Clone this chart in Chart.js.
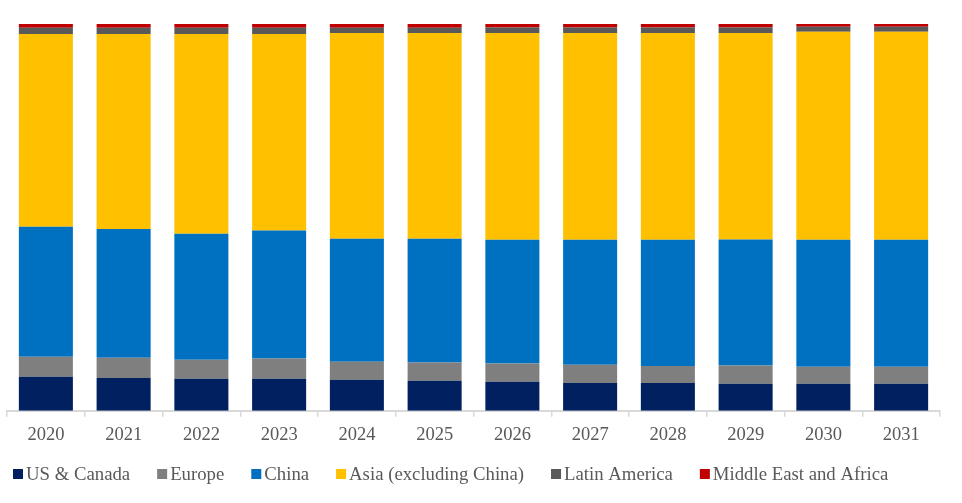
<!DOCTYPE html>
<html>
<head>
<meta charset="utf-8">
<script src="https://cdn.jsdelivr.net/npm/chart.js@4/dist/chart.umd.min.js"></script>
<style>
  html, body { margin: 0; padding: 0; background: #ffffff; }
  #wrap { width: 962px; height: 503px; }
</style>
</head>
<body>
<div id="wrap"><canvas id="c" width="962" height="503"></canvas></div>
<script>
const years = ['2020','2021','2022','2023','2024','2025','2026','2027','2028','2029','2030','2031'];
const usCanada = [8.8, 8.5, 8.3, 8.3, 8.0, 7.8, 7.5, 7.2, 7.2, 7.0, 7.0, 7.0];
const europe   = [5.2, 5.2, 4.9, 5.2, 4.7, 4.7, 4.7, 4.7, 4.4, 4.7, 4.4, 4.4];
const china    = [33.6, 33.3, 32.6, 33.1, 31.8, 32.0, 32.0, 32.3, 32.6, 32.6, 32.8, 32.8];
const asiaExChina = [49.8, 50.4, 51.6, 50.8, 53.2, 53.2, 53.5, 53.5, 53.5, 53.4, 53.8, 53.8];
const latinAmerica = [1.6, 1.6, 1.6, 1.6, 1.3, 1.3, 1.4, 1.4, 1.4, 1.4, 1.3, 1.3];
const middleEastAfrica = [1.0, 1.0, 1.0, 1.0, 1.0, 1.0, 0.9, 0.9, 0.9, 0.9, 0.7, 0.7];

const seriesNames = ['US & Canada', 'Europe', 'China', 'Asia (excluding China)', 'Latin America', 'Middle East and Africa'];
const seriesColors = ['#002060', '#7f7f7f', '#0070c0', '#ffc000', '#595959', '#c00000'];
const seriesData = [usCanada, europe, china, asiaExChina, latinAmerica, middleEastAfrica];

const FONT = '"Liberation Serif", "Times New Roman", serif';

const legendPlugin = {
  id: 'customLegend',
  afterDraw(chart) {
    const ctx = chart.ctx;
    ctx.save();
    ctx.font = '18.75px ' + FONT;
    ctx.textBaseline = 'middle';
    ctx.textAlign = 'left';
    let x = 13;
    const y = 474;
    chart.data.datasets.forEach(ds => {
      ctx.fillStyle = ds.backgroundColor;
      ctx.fillRect(x, y - 5, 10, 10);
      ctx.fillStyle = '#595959';
      ctx.fillText(ds.label, x + 13, y + 1);
      x += 13 + ctx.measureText(ds.label).width + 27;
    });
    ctx.restore();
  }
};

new Chart(document.getElementById('c'), {
  type: 'bar',
  data: {
    labels: years,
    datasets: seriesNames.map((n, i) => ({
      label: n,
      data: seriesData[i],
      backgroundColor: seriesColors[i],
      borderWidth: 0,
      barPercentage: 0.695,
      categoryPercentage: 1.0
    }))
  },
  options: {
    responsive: false,
    animation: false,
    layout: { padding: { left: 7, right: 22, top: 24, bottom: 50 } },
    plugins: {
      legend: { display: false },
      tooltip: { enabled: false }
    },
    scales: {
      x: {
        stacked: true,
        grid: {
          display: true,
          offset: true,
          drawOnChartArea: false,
          drawTicks: true,
          tickLength: 6,
          color: '#d9d9d9',
          lineWidth: 1.5
        },
        border: { display: true, color: '#d9d9d9', width: 2 },
        ticks: {
          color: '#595959',
          font: { family: FONT, size: 18.5 },
          padding: 7,
          maxRotation: 0
        }
      },
      y: {
        stacked: true,
        display: false,
        min: 0,
        max: 100
      }
    }
  },
  plugins: [legendPlugin]
});
</script>
</body>
</html>
